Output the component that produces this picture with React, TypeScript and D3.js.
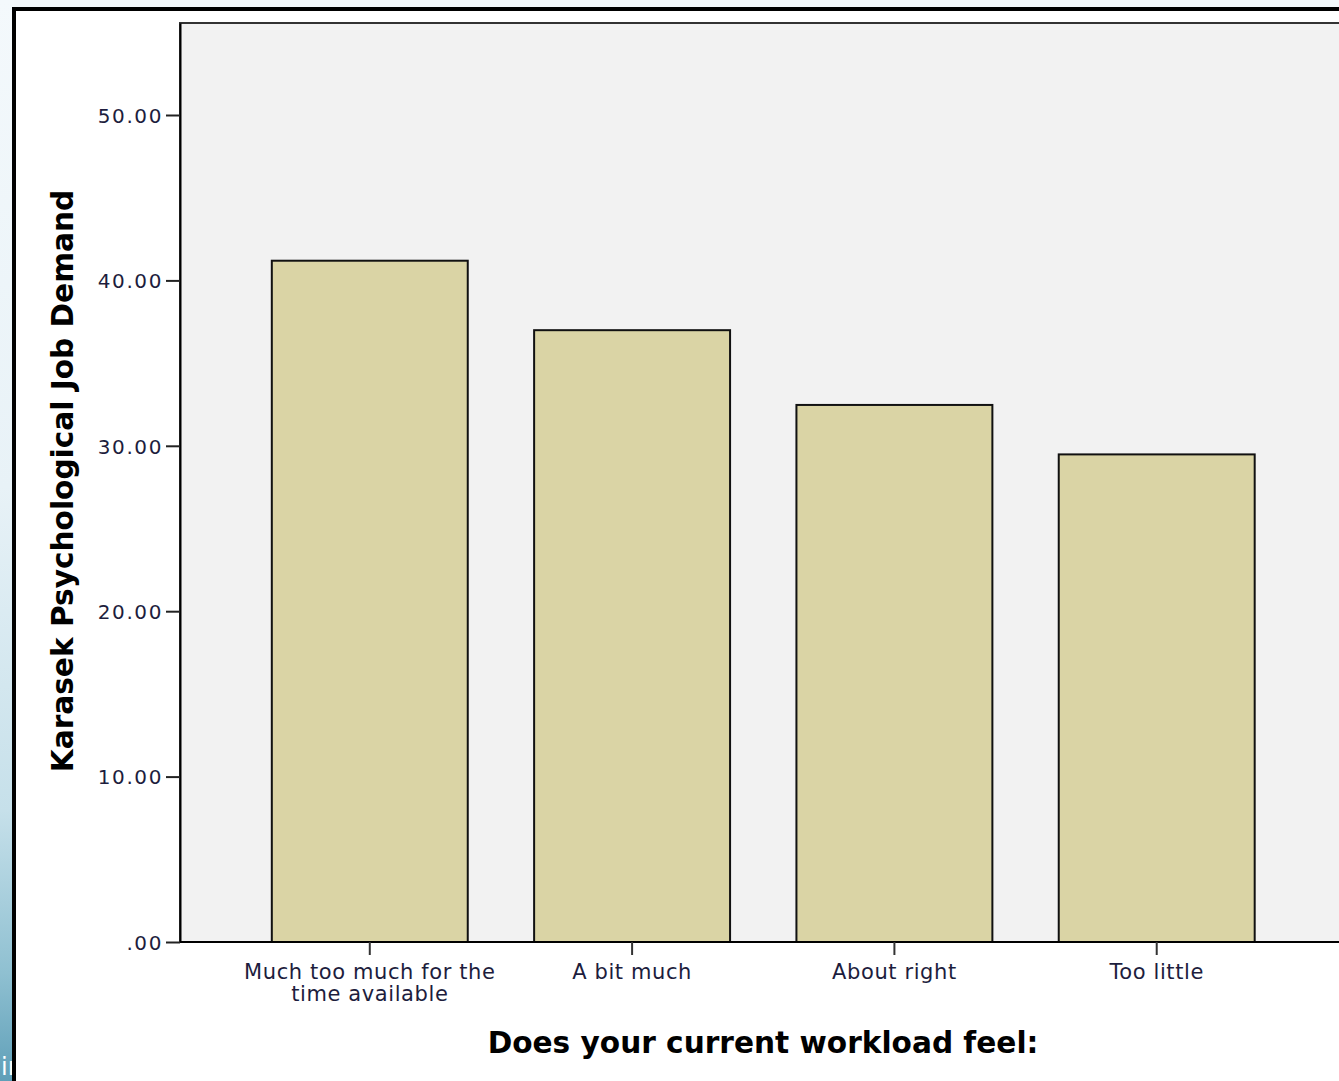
import { useEffect, useRef } from "react";
import * as d3 from "d3";

const categories = [
  "Much too much for the time available",
  "A bit much",
  "About right",
  "Too little",
];
const meanDemand = [41.19, 36.99, 32.47, 29.48];
const yTicks = [0, 10, 20, 30, 40, 50];

const W = 1339;
const H = 1081;
const plot = { left: 180, top: 23, right: 1346.5, bottom: 942 };

const COLORS = {
  plotBg: "#f2f2f2",
  bar: "#dad4a5",
  ink: "#000",
  tickText: "#1d1d3d",
};

const FONT = "'DejaVu Sans', Verdana, sans-serif";

// naive word wrap, SPSS style
function wrap(label: string, maxChars: number): string[] {
  const words = label.split(" ");
  const lines: string[] = [];
  let cur = "";
  words.forEach((w) => {
    const next = cur ? `${cur} ${w}` : w;
    if (next.length > maxChars && cur) {
      lines.push(cur);
      cur = w;
    } else cur = next;
  });
  if (cur) lines.push(cur);
  return lines;
}

export default function App() {
  const svgRef = useRef<SVGSVGElement>(null);

  useEffect(() => {
    document.body.style.margin = "0";
    if (!svgRef.current) return;
    const svg = d3.select(svgRef.current);
    svg.selectAll("*").remove();

    const x = d3.scaleBand<string>()
      .domain(categories)
      .range([plot.left, plot.right])
      .paddingInner(0.253)
      .paddingOuter(0.35);

    const y = d3.scaleLinear()
      .domain([0, (plot.bottom - plot.top) / 16.54])
      .range([plot.bottom, plot.top]);

    // ============ BACKGROUND / FRAME ============
    const defs = svg.append("defs");
    const strip = defs.append("linearGradient")
      .attr("id", "side-strip")
      .attr("x1", "0").attr("y1", "0")
      .attr("x2", "0").attr("y2", "1");
    [
      [0, "#f4f9fc"],
      [0.45, "#e8f2f7"],
      [0.75, "#c6e0ea"],
      [0.9, "#8fc0d1"],
      [1, "#5f9fb8"],
    ].forEach(([o, c]) =>
      strip.append("stop").attr("offset", o as number).attr("stop-color", c as string)
    );

    svg.append("rect").attr("width", W).attr("height", H).attr("fill", "#f3f8fb");
    svg.append("rect").attr("width", 14).attr("height", H).attr("fill", "url(#side-strip)");
    svg.append("text")
      .attr("x", 1).attr("y", 1075)
      .attr("font-family", FONT).attr("font-size", 24)
      .attr("fill", "#fff")
      .text("ir");

    svg.append("rect")
      .attr("x", 14).attr("y", 9)
      .attr("width", W).attr("height", H)
      .attr("fill", "#fff")
      .attr("stroke", "#000")
      .attr("stroke-width", 4);

    // ============ PLOT AREA ============
    svg.append("rect")
      .attr("x", plot.left).attr("y", plot.top)
      .attr("width", W - plot.left + 10)
      .attr("height", plot.bottom - plot.top)
      .attr("fill", COLORS.plotBg)
      .attr("stroke", "#333")
      .attr("stroke-width", 2);

    // bars
    svg.append("g")
      .selectAll("rect")
      .data(categories)
      .join("rect")
      .attr("x", (d) => x(d) ?? 0)
      .attr("y", (_, i) => y(meanDemand[i]))
      .attr("width", x.bandwidth())
      .attr("height", (_, i) => y(0) - y(meanDemand[i]))
      .attr("fill", COLORS.bar)
      .attr("stroke", "#111")
      .attr("stroke-width", 2);

    // ============ AXES ============
    const yAxis = svg.append("g")
      .attr("transform", `translate(${plot.left},0)`)
      .call(
        d3.axisLeft(y)
          .tickValues(yTicks)
          .tickSize(14)
          .tickSizeOuter(0)
          .tickPadding(3)
          .tickFormat((d) => (Number(d) === 0 ? ".00" : Number(d).toFixed(2)))
      );
    yAxis.select(".domain").attr("stroke", COLORS.ink).attr("stroke-width", 2);
    yAxis.selectAll(".tick line").attr("stroke", "#222").attr("stroke-width", 2);
    yAxis.selectAll(".tick text")
      .attr("fill", COLORS.tickText)
      .attr("font-family", FONT)
      .attr("font-size", 20)
      .attr("letter-spacing", 1.6)
      .attr("dy", "0.36em");

    const xAxis = svg.append("g")
      .attr("transform", `translate(0,${plot.bottom})`)
      .call(d3.axisBottom(x).tickSize(13).tickSizeOuter(0).tickFormat(() => ""));
    xAxis.select(".domain").attr("d", `M${plot.left},0H${W + 10}`)
      .attr("stroke", COLORS.ink).attr("stroke-width", 2);
    xAxis.selectAll(".tick line").attr("stroke", "#333").attr("stroke-width", 2);
    xAxis.selectAll<SVGTextElement, string>(".tick text")
      .attr("y", 0).attr("dy", null)
      .each(function (d) {
        const t = d3.select(this);
        wrap(d, 22).forEach((line, i) => {
          t.append("tspan")
            .attr("x", 0)
            .attr("y", 37 + i * 22)
            .text(line);
        });
      })
      .attr("fill", COLORS.tickText)
      .attr("font-family", FONT)
      .attr("font-size", 21)
      .attr("letter-spacing", 0.6);

    // ============ TITLES ============
    svg.append("text")
      .attr("transform", `translate(73,${481}) rotate(-90)`)
      .attr("text-anchor", "middle")
      .attr("font-family", FONT)
      .attr("font-weight", "bold")
      .attr("font-size", 29.6)
      .attr("fill", "#000")
      .text("Karasek Psychological Job Demand");

    svg.append("text")
      .attr("x", 763).attr("y", 1053)
      .attr("text-anchor", "middle")
      .attr("font-family", FONT)
      .attr("font-weight", "bold")
      .attr("font-size", 29.6)
      .attr("fill", "#000")
      .text("Does your current workload feel:");
  }, []);

  return <svg ref={svgRef} width={W} height={H} style={{ display: "block" }} />;
}
